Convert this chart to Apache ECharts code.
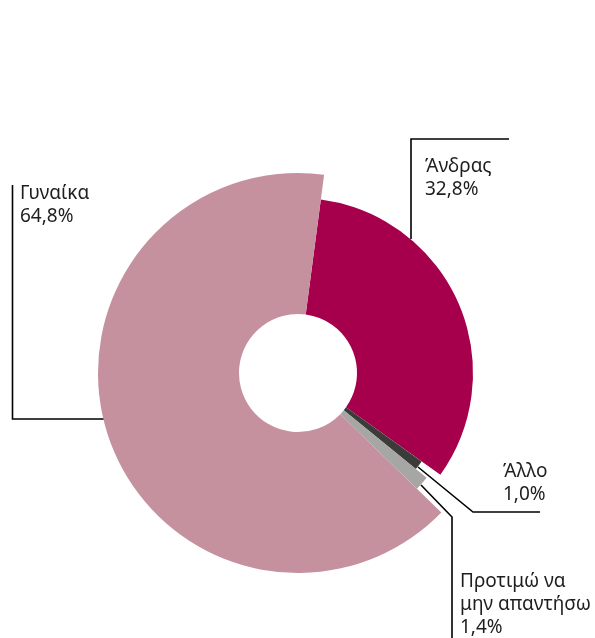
<!DOCTYPE html>
<html>
<head>
<meta charset="utf-8">
<script src="https://cdn.jsdelivr.net/npm/echarts@6/dist/echarts.min.js"></script>
<style>
html,body{margin:0;padding:0;background:#fff;}
#c{width:595px;height:638px;}
</style>
</head>
<body>
<div id="c"></div>
<script>
// Data
const categories = ['Άνδρας', 'Άλλο', 'Προτιμώ να\nμην απαντήσω', 'Γυναίκα'];
const values = [32.8, 1.0, 1.4, 64.8];
const colors = ['#A6004D', '#3B3B39', '#A6A6A4', '#C5919E'];
const outerRadii = [175, 152, 166, 200];

// Label annotation layout (text anchor + elbow leader line)
const labelPos = {
  'Άνδρας': {x: 425, y: 155, line: [[411, 239], [411, 139], [509, 139]]},
  'Άλλο': {x: 503, y: 460, line: [[418, 467], [473, 512], [540, 512]]},
  'Προτιμώ να\nμην απαντήσω': {x: 460, y: 570, line: [[421, 485], [452, 517], [452, 640]]},
  'Γυναίκα': {x: 20, y: 182, line: [[104, 419], [12.5, 419], [12.5, 185]]}
};

const chart = echarts.init(document.getElementById('c'), null, {renderer: 'canvas'});

const series = categories.map(function (cat, si) {
  return {
    type: 'pie',
    center: [298, 373],
    radius: [59, outerRadii[si]],
    startAngle: 82.5,
    clockwise: true,
    avoidLabelOverlap: false,
    silent: true,
    animation: false,
    emphasis: {disabled: true},
    itemStyle: {borderWidth: 0},
    data: categories.map(function (c, j) {
      const own = j === si;
      return {
        name: c,
        value: values[j],
        itemStyle: {color: own ? colors[j] : 'rgba(0,0,0,0)'},
        label: {show: own},
        labelLine: {show: own}
      };
    }),
    label: {
      position: 'outside',
      formatter: function (p) {
        return p.name + '\n' + p.value.toFixed(1).replace('.', ',') + '%';
      },
      fontFamily: 'Noto Sans',
      fontSize: 19,
      lineHeight: 23,
      color: '#1e1e1e',
      align: 'left'
    },
    labelLine: {
      show: true,
      lineStyle: {color: '#000', width: 1.6}
    },
    labelLayout: function (params) {
      const lp = labelPos[categories[params.dataIndex]];
      return {
        x: lp.x,
        y: lp.y,
        align: 'left',
        verticalAlign: 'top',
        labelLinePoints: lp.line
      };
    }
  };
});

chart.setOption({
  backgroundColor: '#fff',
  animation: false,
  series: series
});
</script>
</body>
</html>
